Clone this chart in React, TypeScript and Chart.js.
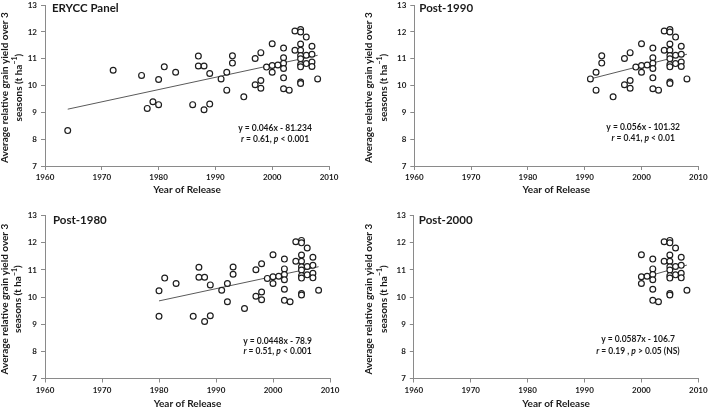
import React, { useEffect, useRef } from "react";
import { Chart, registerables } from "chart.js";

Chart.register(...registerables);

// ---- data ----
const releaseYears = [
  1964, 1972, 1977, 1978, 1979, 1980, 1980, 1981, 1983, 1986,
  1987, 1987, 1988, 1988, 1989, 1989, 1991, 1992, 1992, 1993,
  1993, 1995, 1997, 1997, 1998, 1998, 1998, 1999, 2000, 2000,
  2000, 2001, 2002, 2002, 2002, 2002, 2002, 2002, 2003, 2004,
  2004, 2005, 2005, 2005, 2005, 2005, 2005, 2005, 2005, 2005,
  2005, 2006, 2006, 2006, 2007, 2007, 2007, 2007, 2008,
];
const yieldValues = [
  8.32, 10.57, 10.38, 9.15, 9.4, 10.23, 9.29, 10.7, 10.5, 9.29,
  11.1, 10.73, 10.73, 9.1, 10.45, 9.31, 10.25, 10.5, 9.83, 11.11,
  10.84, 9.58, 11.01, 10.03, 11.23, 10.19, 9.9, 10.69, 11.56, 10.75,
  10.5, 10.77, 11.4, 11.04, 10.83, 10.64, 10.29, 9.88, 9.83, 12.04,
  11.32, 12.09, 12.0, 11.55, 11.32, 11.12, 11.0, 10.79, 10.7, 10.13,
  10.08, 11.81, 11.13, 10.82, 11.47, 11.17, 10.88, 10.71, 10.25,
];

const panelNames = ["ERYCC Panel", "Post-1990", "Post-1980", "Post-2000"];
const panelFirstYears = [1960, 1991, 1980, 2000];
const trendStartYears = [1964, 1991, 1980, 2000];
const trendStartValues = [9.12, 10.25, 9.86, 10.7];
const trendEndYears = [2008, 2008, 2008, 2008];
const trendEndValues = [11.13, 11.17, 11.12, 11.18];
const equationTexts = [
  "y = 0.046x - 81.234",
  "y = 0.056x - 101.32",
  "y = 0.0448x - 78.9",
  "y = 0.0587x - 106.7",
];
const rTexts = [" = 0.61, ", " = 0.41, ", " = 0.51, ", " = 0.19 , "];
const pTexts = [" < 0.001", " < 0.01", " < 0.001", " > 0.05 (NS)"];

const xTicks = [1960, 1970, 1980, 1990, 2000, 2010];
const yTicks = [7, 8, 9, 10, 11, 12, 13];
const yTitleLine1 = "Average relative grain yield over 3";
const yTitleLine2 = ["seasons (t ha", "\u22121", ")"];
const xTitle = "Year of Release";

// ---- layout / style ----
type Layout = {
  left: number; top: number; width: number; height: number;
  yAxisWidth: number; rightPad: number; topPad: number; xAxisHeight: number;
  yTitleX1: number; yTitleX2: number; xTitleY: number;
  labelDx: number; labelDy: number;
  eqYear: number; eqVal1: number; eqVal2: number;
};

const layouts: Layout[] = [
  { left: 0, top: 0, width: 350, height: 204, yAxisWidth: 45, rightPad: 21, topPad: 3, xAxisHeight: 38,
    yTitleX1: 5, yTitleX2: 18.5, xTitleY: 189.3, labelDx: 7, labelDy: 3.5, eqYear: 2000.5, eqVal1: 8.4, eqVal2: 8.01 },
  { left: 350, top: 0, width: 359, height: 204, yAxisWidth: 64.3, rightPad: 10.7, topPad: 3, xAxisHeight: 38,
    yTitleX1: 18.3, yTitleX2: 33.3, xTitleY: 189.3, labelDx: 5, labelDy: 3.5, eqYear: 2000.3, eqVal1: 8.44, eqVal2: 8.05 },
  { left: 0, top: 204, width: 350, height: 204, yAxisWidth: 45, rightPad: 20, topPad: 11.7, xAxisHeight: 29.5,
    yTitleX1: 4.5, yTitleX2: 18, xTitleY: 200, labelDx: 8, labelDy: 5, eqYear: 2000.8, eqVal1: 8.39, eqVal2: 7.99 },
  { left: 350, top: 204, width: 359, height: 204, yAxisWidth: 63.8, rightPad: 10.7, topPad: 11.7, xAxisHeight: 29.5,
    yTitleX1: 18.3, yTitleX2: 33.3, xTitleY: 200, labelDx: 5, labelDy: 5, eqYear: 1999.4, eqVal1: 8.45, eqVal2: 8.02 },
];

const FONT = "Lato, 'Liberation Sans', sans-serif";
const TEXT = "#1a1a1a";
const AXIS = "#8a8a8a";

function Panel({ index }: { index: number }) {
  const ref = useRef<HTMLCanvasElement | null>(null);
  const L = layouts[index];

  useEffect(() => {
    if (!ref.current) return;
    const pts: { x: number; y: number }[] = [];
    releaseYears.forEach((yr, i) => {
      if (yr >= panelFirstYears[index]) pts.push({ x: yr, y: yieldValues[i] });
    });

    const textPlugin = {
      id: "panelText" + index,
      afterDraw(chart: any) {
        const ctx = chart.ctx as CanvasRenderingContext2D;
        const area = chart.chartArea;
        const xs = chart.scales.x;
        const ys = chart.scales.y;
        ctx.save();
        ctx.fillStyle = TEXT;

        // panel label
        ctx.font = `bold 11.5px ${FONT}`;
        ctx.textAlign = "left";
        ctx.textBaseline = "middle";
        ctx.fillText(panelNames[index], area.left + L.labelDx, area.top + L.labelDy);

        // x title
        ctx.font = `bold 10px ${FONT}`;
        ctx.textAlign = "center";
        ctx.fillText(xTitle, (area.left + area.right) / 2, L.xTitleY);

        // y title (two rotated lines)
        const cy = (area.top + area.bottom) / 2 + 2;
        ctx.save();
        ctx.translate(L.yTitleX1, cy);
        ctx.rotate(-Math.PI / 2);
        ctx.textAlign = "center";
        ctx.fillText(yTitleLine1, 0, 0);
        ctx.restore();

        ctx.save();
        ctx.translate(L.yTitleX2, cy);
        ctx.rotate(-Math.PI / 2);
        ctx.textAlign = "left";
        ctx.font = `bold 10px ${FONT}`;
        const w1 = ctx.measureText(yTitleLine2[0]).width;
        const w3 = ctx.measureText(yTitleLine2[2]).width;
        ctx.font = `bold 7px ${FONT}`;
        const w2 = ctx.measureText(yTitleLine2[1]).width;
        let sx = -(w1 + w2 + w3) / 2;
        ctx.font = `bold 10px ${FONT}`;
        ctx.fillText(yTitleLine2[0], sx, 0);
        sx += w1;
        ctx.font = `bold 7px ${FONT}`;
        ctx.fillText(yTitleLine2[1], sx, -3.5);
        sx += w2;
        ctx.font = `bold 10px ${FONT}`;
        ctx.fillText(yTitleLine2[2], sx, 0);
        ctx.restore();

        // regression equation
        const ex = xs.getPixelForValue(L.eqYear);
        ctx.font = `bold 8.5px ${FONT}`;
        ctx.textAlign = "center";
        ctx.fillText(equationTexts[index], ex, ys.getPixelForValue(L.eqVal1));

        const segs: [string, boolean][] = [
          ["r", true], [rTexts[index], false], ["p", true], [pTexts[index], false],
        ];
        const fontOf = (it: boolean) => `${it ? "italic " : ""}bold 8.5px ${FONT}`;
        let total = 0;
        segs.forEach(([t, it]) => { ctx.font = fontOf(it); total += ctx.measureText(t).width; });
        let px = ex - total / 2;
        const py = ys.getPixelForValue(L.eqVal2);
        ctx.textAlign = "left";
        segs.forEach(([t, it]) => {
          ctx.font = fontOf(it);
          ctx.fillText(t, px, py);
          px += ctx.measureText(t).width;
        });
        ctx.restore();
      },
    };

    const chart = new Chart(ref.current, {
      type: "scatter",
      data: {
        datasets: [
          {
            data: pts,
            pointStyle: "circle",
            pointRadius: 2.9,
            pointBorderWidth: 1.2,
            pointBorderColor: "#1e1e1e",
            pointBackgroundColor: "#ffffff",
            order: 1,
          },
          {
            data: [
              { x: trendStartYears[index], y: trendStartValues[index] },
              { x: trendEndYears[index], y: trendEndValues[index] },
            ],
            showLine: true,
            pointRadius: 0,
            borderColor: "#5a5a5a",
            borderWidth: 1,
            order: 2,
          },
        ],
      } as any,
      options: {
        animation: false,
        responsive: false,
        devicePixelRatio: 1,
        layout: { padding: { left: 0, right: L.rightPad, top: L.topPad, bottom: 0 } },
        plugins: { legend: { display: false }, tooltip: { enabled: false } },
        scales: {
          x: {
            type: "linear",
            min: 1960,
            max: 2010,
            afterBuildTicks: (s: any) => { s.ticks = xTicks.map((v) => ({ value: v })); },
            afterFit: (s: any) => { s.height = L.xAxisHeight; s.paddingLeft = 0; s.paddingRight = 0; },
            ticks: {
              callback: (v: any) => String(v),
              font: { family: FONT, size: 8, weight: "bold" },
              color: TEXT,
              padding: 3,
              maxRotation: 0,
              autoSkip: false,
            },
            grid: { display: true, drawOnChartArea: false, drawTicks: true, tickLength: 4, color: AXIS },
            border: { display: true, color: AXIS, width: 1 },
          },
          y: {
            type: "linear",
            min: 7,
            max: 13,
            afterBuildTicks: (s: any) => { s.ticks = yTicks.map((v) => ({ value: v })); },
            afterFit: (s: any) => { s.width = L.yAxisWidth; s.paddingTop = 0; s.paddingBottom = 0; },
            ticks: {
              callback: (v: any) => String(v),
              font: { family: FONT, size: 8, weight: "bold" },
              color: TEXT,
              padding: 4,
              autoSkip: false,
            },
            grid: { display: true, drawOnChartArea: false, drawTicks: true, tickLength: 4, color: AXIS },
            border: { display: true, color: AXIS, width: 1 },
          },
        },
      } as any,
      plugins: [textPlugin as any],
    });
    return () => chart.destroy();
  }, [index]);

  return (
    <div style={{ position: "absolute", left: L.left, top: L.top, width: L.width, height: L.height }}>
      <canvas ref={ref} width={L.width} height={L.height} style={{ display: "block" }} />
    </div>
  );
}

export default function App() {
  return (
    <div style={{ position: "absolute", left: 0, top: 0, width: 709, height: 408, background: "#ffffff", overflow: "hidden" }}>
      {[0, 1, 2, 3].map((i) => (
        <Panel key={i} index={i} />
      ))}
    </div>
  );
}
